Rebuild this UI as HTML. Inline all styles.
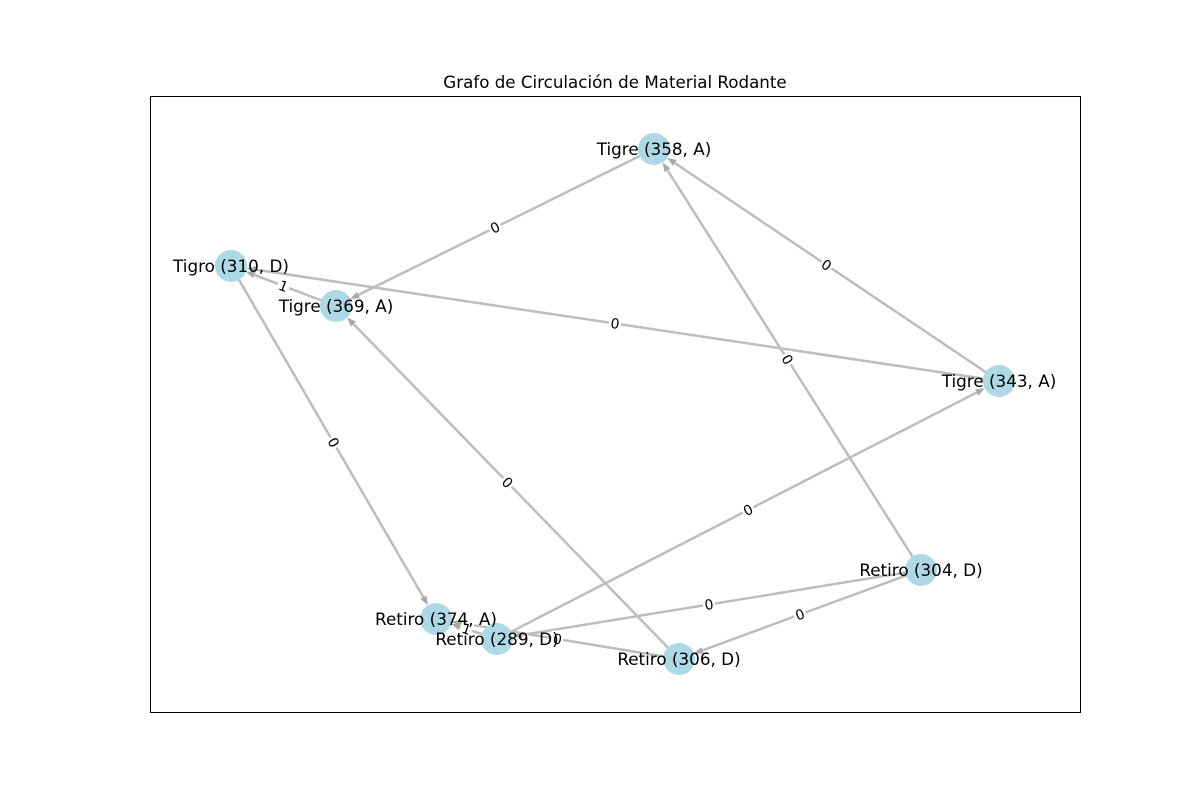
<!DOCTYPE html>
<html><head><meta charset="utf-8"><style>
body{margin:0;background:#fff;}
svg{display:block;font-family:"DejaVu Sans","Liberation Sans",sans-serif;}
</style></head><body>
<svg id="c" width="1200" height="800">
<rect x="150.5" y="96.5" width="930" height="616" fill="none" stroke="#000" stroke-width="1"/>
<text x="615" y="88" text-anchor="middle" font-size="16.7">Grafo de Circulación de Material Rodante</text>
<g id="edges"></g><g id="nodes"></g><g id="elabels"></g><g id="nlabels"></g>
</svg>
<script>
const nodeNames=["Tigre (358, A)","Tigro (310, D)","Tigre (369, A)","Tigre (343, A)","Retiro (304, D)","Retiro (374, A)","Retiro (289, D)","Retiro (306, D)"];
const nodeX=[654,231,336,999,921,436,497,679];
const nodeY=[149,266,306,381,570,619,639,659];
const edgeFrom=[0,3,3,4,2,1,7,6,4,4,6,7];
const edgeTo=[2,0,1,0,1,5,2,3,6,7,5,5];
const edgeWeights=[0,0,0,0,1,0,0,0,0,0,1,0];
const NS="http://www.w3.org/2000/svg";
function mk(t,a,p){const e=document.createElementNS(NS,t);for(const k in a)e.setAttribute(k,a[k]);p.appendChild(e);return e;}
const E=document.getElementById('edges'),N=document.getElementById('nodes'),L=document.getElementById('elabels'),NL=document.getElementById('nlabels');
const R=16;
edgeFrom.forEach((f,i)=>{
 const t=edgeTo[i];const x1=nodeX[f],y1=nodeY[f],x2=nodeX[t],y2=nodeY[t];
 const dx=x2-x1,dy=y2-y1,d=Math.hypot(dx,dy),ux=dx/d,uy=dy/d;
 const ex=x2-ux*R,ey=y2-uy*R;
 const ln=mk('line',{x1:x1,y1:y1,x2:ex-ux*6,y2:ey-uy*6,stroke:'#bdbdbd','stroke-width':2.5},E);
 
 
 const px=-uy,py=ux;
 const ah=mk('polygon',{points:`${ex},${ey} ${ex-ux*9+px*3.5},${ey-uy*9+py*3.5} ${ex-ux*9-px*3.5},${ey-uy*9-py*3.5}`,fill:'#a8a8a8'},E);
 
 
 const mx=(x1+x2)/2,my=(y1+y2)/2;let ang=Math.atan2(dy,dx)*180/Math.PI;
 if(ang>90)ang-=180;if(ang<-90)ang+=180;
 const g=mk('g',{transform:`translate(${mx},${my}) rotate(${ang})`},L);
 
 
 mk('rect',{x:-6,y:-8,width:12,height:15,fill:'#fff'},g);
 const tx=mk('text',{x:0,y:5,'text-anchor':'middle','font-size':14},g);tx.textContent=edgeWeights[i];
});
nodeNames.forEach((n,i)=>{
 const c=mk('circle',{cx:nodeX[i],cy:nodeY[i],r:R,fill:'#add8e6'},N);
 
 
 const t=mk('text',{x:nodeX[i],y:nodeY[i]+6,'text-anchor':'middle','font-size':16.8},NL);
 
 
 t.textContent=n;
});
</script>
</body></html>
